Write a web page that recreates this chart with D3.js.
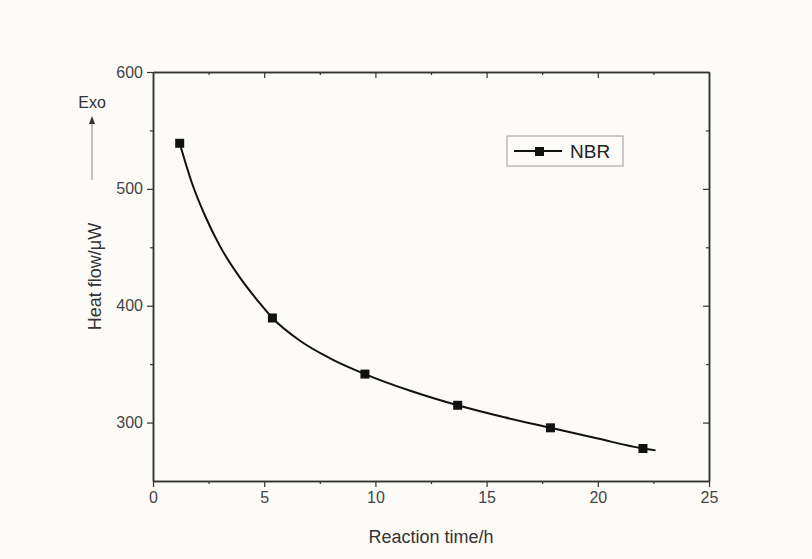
<!DOCTYPE html>
<html><head><meta charset="utf-8">
<script src="https://cdn.jsdelivr.net/npm/d3@7"></script>
<style>body{margin:0;background:#fdfbf8;} svg{display:block;}</style>
</head><body><svg id="c" width="812" height="559"></svg>
<script>
// measured points
const timeH = [1.2, 5.37, 9.53, 13.7, 17.87, 22.03];
const heatFlow = [539, 389.5, 341.5, 314.8, 295.5, 277.8];
// fitted curve
const fitTime = [1.2, 1.75, 2.34, 3.01, 3.91, 4.72, 5.37, 6.61, 7.96, 9.53, 11.6, 13.7, 15.8, 17.87, 20.0, 22.03, 22.6];
const fitHeat = [539, 505, 477, 451, 424, 404, 389.5, 370, 355, 341.5, 327, 314.8, 304.5, 295.5, 286.3, 277.8, 276.2];
const xTicks = [0, 5, 10, 15, 20, 25];
const yTicks = [300, 400, 500, 600];
const seriesName = "NBR";

const svg = d3.select("#c");
svg.append("rect").attr("width",812).attr("height",559).attr("fill","#fdfbf8");
const L=153, R=709, T=72, B=481;
const x = d3.scaleLinear().domain([0,25]).range([L,R]);
const y = d3.scaleLinear().domain([250,600]).range([B,T]);
const axCol = "#333";
const font = "'Liberation Sans', Arial, sans-serif";

// bottom axis
svg.append("g").attr("transform",`translate(0,${B})`)
  .call(d3.axisBottom(x).tickValues(xTicks).tickSize(6).tickPadding(5).tickSizeOuter(0));
svg.append("g").attr("transform",`translate(0,${B})`)
  .call(d3.axisBottom(x).tickValues(d3.range(2.5,25,5)).tickSize(3).tickFormat("").tickSizeOuter(0));
// left axis
svg.append("g").attr("transform",`translate(${L},0)`)
  .call(d3.axisLeft(y).tickValues(yTicks).tickSize(6).tickPadding(4).tickSizeOuter(0));
svg.append("g").attr("transform",`translate(${L},0)`)
  .call(d3.axisLeft(y).tickValues([350,450,550]).tickSize(3).tickFormat("").tickSizeOuter(0));
// top inward ticks
svg.append("g").attr("transform",`translate(0,${T})`)
  .call(d3.axisBottom(x).tickValues(xTicks.slice(1,-1)).tickSize(6).tickFormat("").tickSizeOuter(0));
svg.append("g").attr("transform",`translate(0,${T})`)
  .call(d3.axisBottom(x).tickValues(d3.range(2.5,25,5)).tickSize(3).tickFormat("").tickSizeOuter(0));
// right inward ticks
svg.append("g").attr("transform",`translate(${R},0)`)
  .call(d3.axisLeft(y).tickValues([300,400,500]).tickSize(6).tickFormat("").tickSizeOuter(0));
svg.append("g").attr("transform",`translate(${R},0)`)
  .call(d3.axisLeft(y).tickValues([350,450,550]).tickSize(3).tickFormat("").tickSizeOuter(0));

svg.selectAll(".domain").attr("stroke",axCol).attr("stroke-width",1.5);
svg.selectAll(".tick line").attr("stroke",axCol).attr("stroke-width",1.2);
svg.selectAll(".tick text").attr("font-family",font).attr("font-size",16).attr("fill","#444");

// axis titles
svg.append("text").attr("x",(L+R)/2).attr("y",543).attr("text-anchor","middle")
  .attr("font-family",font).attr("font-size",18).attr("fill","#333").text("Reaction time/h");
svg.append("text").attr("transform",`translate(101,${(T+B)/2}) rotate(-90)`).attr("text-anchor","middle")
  .attr("font-family",font).attr("font-size",18).attr("fill","#333").text("Heat flow/μW");

// Exo arrow
svg.append("text").attr("x",92).attr("y",108).attr("text-anchor","middle")
  .attr("font-family",font).attr("font-size",16).attr("fill","#333").text("Exo");
svg.append("line").attr("x1",92).attr("x2",92).attr("y1",180).attr("y2",122).attr("stroke","#888").attr("stroke-width",1);
svg.append("path").attr("d","M92,116 L89,124 L95,124 Z").attr("fill","#333");

// curve
const pts = fitTime.map((t,i)=>[t,fitHeat[i]]);
const line = d3.line().x(d=>x(d[0])).y(d=>y(d[1])).curve(d3.curveMonotoneX);
svg.append("path").attr("d",line(pts)).attr("fill","none").attr("stroke","#111").attr("stroke-width",2);
svg.selectAll(".pt").data(timeH).enter().append("rect")
  .attr("x",(d)=>x(d)-4.5).attr("y",(d,i)=>y(heatFlow[i])-4.5).attr("width",9).attr("height",9).attr("fill","#111");

// legend
const lg = svg.append("g");
lg.append("rect").attr("x",507).attr("y",136).attr("width",116).attr("height",30).attr("fill","none").attr("stroke","#999").attr("stroke-width",1);
lg.append("line").attr("x1",514).attr("x2",562).attr("y1",151).attr("y2",151).attr("stroke","#111").attr("stroke-width",2);
lg.append("rect").attr("x",535).attr("y",147).attr("width",9).attr("height",9).attr("fill","#111");
lg.append("text").attr("x",570).attr("y",158).attr("font-family",font).attr("font-size",19).attr("fill","#222").text(seriesName);
</script></body></html>
